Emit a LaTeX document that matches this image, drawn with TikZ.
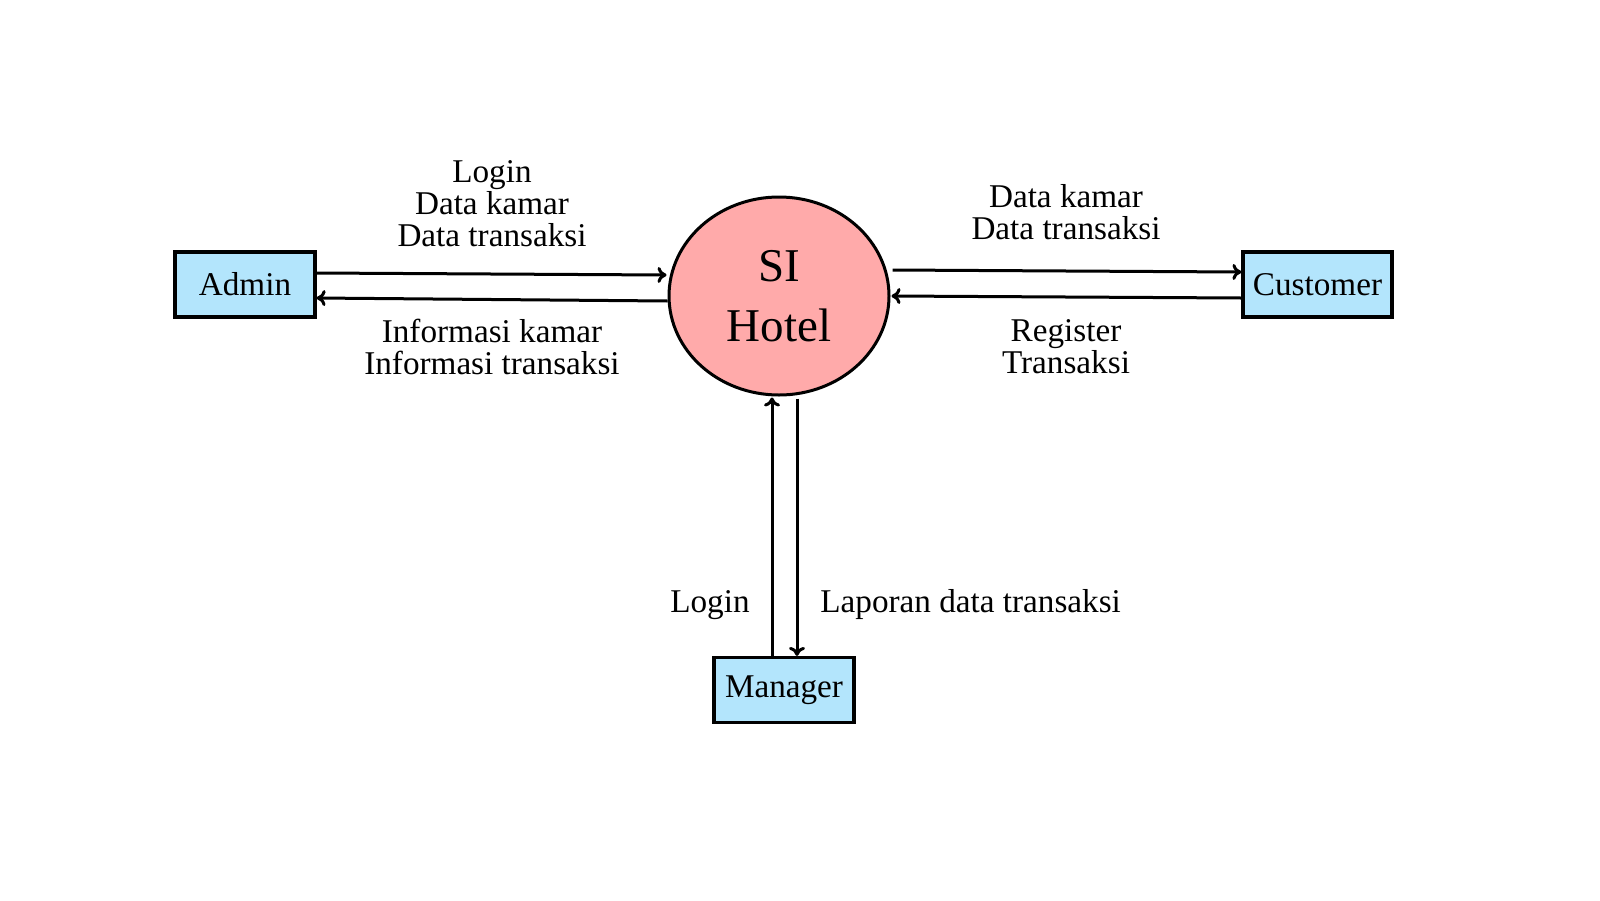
\documentclass[tikz,border=0pt]{standalone}
\usepackage{fontspec}
\setmainfont{Liberation Serif}
\usetikzlibrary{shapes.geometric,calc,arrows.meta}
\definecolor{boxfill}{RGB}{179,229,252}
\definecolor{procfill}{RGB}{255,170,170}
\begin{document}
\begin{tikzpicture}[x=0.5pt,y=-0.5pt,
  entity/.style={draw=black,line width=1.6pt,fill=boxfill,minimum height=32.5pt,inner sep=0pt,font=\fontsize{16.6}{16}\selectfont},
  proc/.style={ellipse,draw=black,line width=1.5pt,fill=procfill,minimum width=110pt,minimum height=99pt,inner sep=0pt,align=center,font=\fontsize{23.5}{30}\selectfont},
  flow/.style={line width=1.5pt,-{To[length=4.5pt,width=8pt]}},
  lbl/.style={align=center,font=\fontsize{16.6}{16}\selectfont,inner sep=0pt}]
\useasboundingbox (0,0) rectangle (1600,900);
\node[entity,minimum width=70pt] (admin) at (245,284.5) {Admin};
\node[entity,minimum width=74.5pt] (cust) at (1317.5,284.5) {Customer};
\node[entity,minimum width=70pt] (mgr) at (784,690) {Manager};
\node[proc] (si) at (779,296) {SI\\Hotel};
% flows
\draw[flow] ($(admin.east)+(0,-11.5)$) -- ($(si.west)+(-1,-21)$);
\draw[flow] ($(si.west)+(0,5)$) -- ($(admin.east)+(0,13.5)$);
\draw[flow] ($(si.east)+(2,-26)$) -- ($(cust.west)+(0,-12.5)$);
\draw[flow] ($(cust.west)+(0,13.5)$) -- ($(si.east)+(1,0)$);
\draw[flow] ($(mgr.north)+(-12,0)$) -- ($(si.south)+(-7,1)$);
\draw[flow] ($(si.south)+(18,2)$) -- ($(mgr.north)+(13,0)$);
% labels
\node[lbl] (l1) at (492,204) {Login\\[0pt]Data kamar\\Data transaksi};
\node[lbl] (l2) at (492,347) {Informasi kamar\\Informasi transaksi};
\node[lbl] (l3) at (1066,212) {Data kamar\\Data transaksi};
\node[lbl] (l4) at (1066,347) {Register\\Transaksi};
\node[lbl,anchor=east] (l5) at (750,605) {Login};
\node[lbl,anchor=west] (l6) at (820,605) {Laporan data transaksi};
\end{tikzpicture}
\end{document}
